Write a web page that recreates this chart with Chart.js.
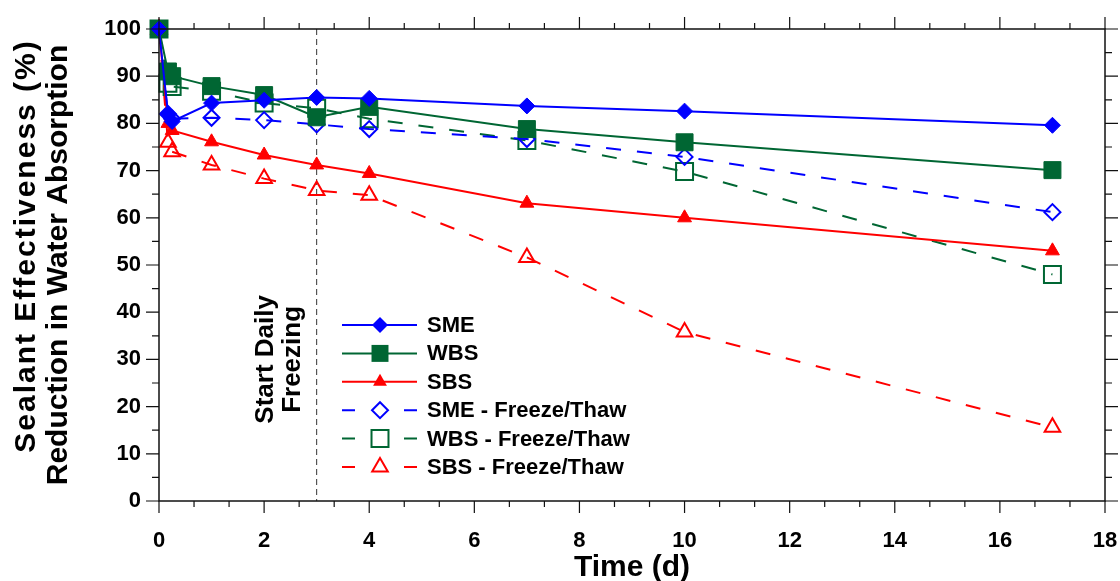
<!DOCTYPE html>
<html>
<head>
<meta charset="utf-8">
<script src="https://cdn.jsdelivr.net/npm/chart.js@4.4.1/dist/chart.umd.min.js"></script>
<style>
  body { margin: 0; background: #fff; }
  #wrap { width: 1120px; height: 581px; position: relative; }
</style>
</head>
<body>
<div id="wrap"><canvas id="chart"></canvas></div>
<script>
// days since sealing
var days = [0, 0.17, 0.25, 1, 2, 3, 4, 7, 10, 17];

// sealant effectiveness (%)
var sme   = [100, 82,   80.4, 84.3, 84.9, 85.5, 85.3, 83.7, 82.6, 79.6];
var wbs   = [100, 91,   90.0, 87.9, 86.0, 81.3, 83.5, 78.8, 76.0, 70.1];
var sbs   = [100, 80,   78.5, 76.1, 73.3, 71.2, 69.4, 63.1, 60.0, 53.0];
var smeFT = [100, 82,   81.0, 81.2, 80.7, 79.8, 78.8, 76.7, 72.9, 61.2];
var wbsFT = [100, 88.5, 87.8, 86.8, 84.3, 83.2, 81.0, 76.4, 69.8, 48.0];
var sbsFT = [100, 76,   74.0, 71.2, 68.3, 65.8, 64.8, 51.6, 35.8, 15.6];

var seriesNames = ['SME', 'WBS', 'SBS', 'SME - Freeze/Thaw', 'WBS - Freeze/Thaw', 'SBS - Freeze/Thaw'];
var freezeStart = 3;

var BLUE = '#0000ff', GREEN = '#006633', RED = '#ff0000';
var FONT = '"Liberation Sans", Arial, sans-serif';
Chart.defaults.font.family = FONT;

function pts(vals) {
  return days.map(function (d, i) { return { x: d, y: vals[i] }; });
}

function makeSet(name, vals, color, style, radius, open) {
  return {
    label: name,
    data: pts(vals),
    borderColor: color,
    backgroundColor: open ? 'rgba(255,255,255,0)' : color,
    pointBackgroundColor: open ? 'rgba(255,255,255,0)' : color,
    pointBorderColor: color,
    pointStyle: style,
    pointRadius: radius,
    pointBorderWidth: open ? 2 : 1,
    borderWidth: 2,
    borderDash: open ? [15, 16] : [],
    tension: 0,
    clip: false,
    open: open
  };
}

var datasets = [
  makeSet(seriesNames[0], sme, BLUE, 'rectRot', 8, false),
  makeSet(seriesNames[1], wbs, GREEN, 'rect', 12, false),
  makeSet(seriesNames[2], sbs, RED, 'triangle', 8, false),
  makeSet(seriesNames[3], smeFT, BLUE, 'rectRot', 8, true),
  makeSet(seriesNames[4], wbsFT, GREEN, 'rect', 12, true),
  makeSet(seriesNames[5], sbsFT, RED, 'triangle', 9, true)
];

function marker(ctx, style, r, x, y, color, open) {
  ctx.save();
  ctx.beginPath();
  if (style === 'rectRot') {
    ctx.moveTo(x - r, y); ctx.lineTo(x, y - r); ctx.lineTo(x + r, y); ctx.lineTo(x, y + r);
  } else if (style === 'rect') {
    var s = r * Math.SQRT1_2;
    ctx.rect(x - s, y - s, 2 * s, 2 * s);
  } else {
    ctx.moveTo(x, y - r);
    ctx.lineTo(x + r * Math.sin(2 * Math.PI / 3), y - r * Math.cos(2 * Math.PI / 3));
    ctx.lineTo(x + r * Math.sin(4 * Math.PI / 3), y - r * Math.cos(4 * Math.PI / 3));
  }
  ctx.closePath();
  if (open) {
    ctx.lineWidth = 2; ctx.strokeStyle = color; ctx.stroke();
  } else {
    ctx.fillStyle = color; ctx.fill();
  }
  ctx.restore();
}

var decor = {
  id: 'decor',
  beforeDatasetsDraw: function (chart) {
    var ctx = chart.ctx, a = chart.chartArea;
    var px = chart.scales.x.getPixelForValue(freezeStart);
    ctx.save();
    ctx.strokeStyle = '#333';
    ctx.lineWidth = 1;
    ctx.setLineDash([6, 4]);
    ctx.beginPath();
    ctx.moveTo(px, a.top);
    ctx.lineTo(px, a.bottom);
    ctx.stroke();
    ctx.setLineDash([]);
    // label
    var cy = chart.scales.y.getPixelForValue(30);
    ctx.translate(px, cy);
    ctx.rotate(-Math.PI / 2);
    ctx.fillStyle = '#000';
    ctx.font = 'bold 26px ' + FONT;
    ctx.textAlign = 'center';
    ctx.textBaseline = 'middle';
    ctx.fillText('Start Daily', 0, -51);
    ctx.fillText('Freezing', 0, -24);
    ctx.restore();
  },
  afterDraw: function (chart) {
    var ctx = chart.ctx, a = chart.chartArea;
    var xs = chart.scales.x, ys = chart.scales.y;
    ctx.save();
    ctx.strokeStyle = '#111';
    ctx.lineWidth = 1.5;
    ctx.strokeRect(a.left, a.top, a.right - a.left, a.bottom - a.top);
    ctx.lineWidth = 1.2;
    ctx.beginPath();
    for (var i = 0; i <= 27; i++) {
      var v = i * 2 / 3;
      var p = xs.getPixelForValue(v);
      var len = i % 3 === 0 ? 12 : 6;
      ctx.moveTo(p, a.bottom); ctx.lineTo(p, a.bottom + len);
      ctx.moveTo(p, a.top); ctx.lineTo(p, a.top - len);
    }
    for (var j = 0; j <= 20; j++) {
      var q = ys.getPixelForValue(j * 5);
      var l2 = j % 2 === 0 ? 13 : 7;
      ctx.moveTo(a.left - l2, q); ctx.lineTo(a.left, q);
      ctx.moveTo(a.right, q); ctx.lineTo(a.right + l2, q);
    }
    ctx.stroke();

    // y axis title
    ctx.fillStyle = '#000';
    ctx.font = 'bold 30px ' + FONT;
    ctx.textAlign = 'center';
    ctx.textBaseline = 'middle';
    ctx.save();
    ctx.translate(27, 246);
    ctx.rotate(-Math.PI / 2);
    ctx.letterSpacing = '2px';
    ctx.fillText('Sealant Effectiveness (%)', 0, 0);
    ctx.restore();
    ctx.save();
    ctx.translate(59, 265);
    ctx.rotate(-Math.PI / 2);
    ctx.fillText('Reduction in Water Absorption', 0, 0);
    ctx.restore();

    // legend
    ctx.font = 'bold 22px ' + FONT;
    ctx.textAlign = 'left';
    chart.data.datasets.forEach(function (ds, k) {
      var y = 325 + k * 28.4;
      var x0 = 342, x1 = 417, xm = 380;
      ctx.strokeStyle = ds.borderColor;
      ctx.lineWidth = 2;
      ctx.beginPath();
      if (ds.open) {
        ctx.moveTo(x0, y); ctx.lineTo(x0 + 13, y);
        ctx.moveTo(x1 - 13, y); ctx.lineTo(x1, y);
      } else {
        ctx.moveTo(x0, y); ctx.lineTo(x1, y);
      }
      ctx.stroke();
      marker(ctx, ds.pointStyle, ds.pointRadius, xm, y, ds.borderColor, ds.open);
      ctx.fillStyle = '#000';
      ctx.fillText(ds.label, 427, y + 1);
    });
    ctx.restore();
  }
};

new Chart(document.getElementById('chart'), {
  type: 'line',
  data: { datasets: datasets },
  plugins: [decor],
  options: {
    responsive: true,
    maintainAspectRatio: false,
    animation: false,
    layout: { autoPadding: false, padding: { left: 0, top: 29, right: 15, bottom: 0 } },
    plugins: { legend: { display: false }, tooltip: { enabled: false } },
    scales: {
      x: {
        type: 'linear',
        min: 0,
        max: 18,
        afterFit: function (s) { s.height = 80; s.paddingLeft = 0; s.paddingRight = 0; },
        grid: { display: false, drawTicks: false },
        border: { display: false },
        ticks: { stepSize: 2, padding: 27, color: '#000', font: { size: 22, weight: 'bold' } },
        title: { display: true, text: 'Time (d)', color: '#000', padding: { top: 0, bottom: 0 }, font: { size: 30, weight: 'bold', lineHeight: 0.9 } }
      },
      y: {
        min: 0,
        max: 100,
        afterFit: function (s) { s.width = 159; s.paddingTop = 0; s.paddingBottom = 0; },
        grid: { display: false, drawTicks: false },
        border: { display: false },
        ticks: { stepSize: 10, padding: 18, color: '#000', font: { size: 22, weight: 'bold' } }
      }
    }
  }
});
</script>
</body>
</html>
